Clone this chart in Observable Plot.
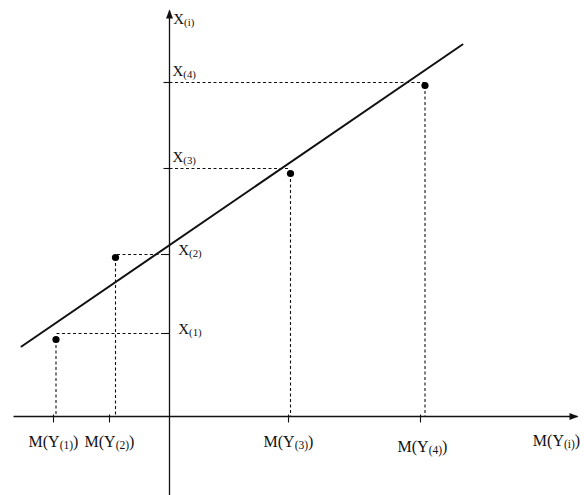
<!DOCTYPE html>
<html>
<head>
<meta charset="utf-8">
<script src="https://cdn.jsdelivr.net/npm/d3@7"></script>
<script src="https://cdn.jsdelivr.net/npm/@observablehq/plot@0.6"></script>
<style>
  html, body { margin: 0; padding: 0; background: #fff; }
  #chart svg { display: block; }
</style>
</head>
<body>
<div id="chart"></div>
<script>
// ---- data (abstract units: M(Y) along horizontal axis, X along vertical axis) ----
const subs   = ["(1)", "(2)", "(3)", "(4)"];           // order-statistic subscripts
const mY     = [-11.35, -5.4, 12.1, 25.55];             // M(Y(k)) position of each point
const obsX   = [7.7, 15.9, 24.3, 33.1];                 // observed X(k) (points)
const fitX   = [8.3, 16.2, 24.8, 33.4];                 // X(k) marked on vertical axis
const tickM  = [-11.6, -6.0, 11.9, 25.1];               // ticks on horizontal axis
const lineMs = [-14.8, 29.3];                           // fitted line ends (horizontal)
const lineXs = [7.0, 37.2];                             // fitted line ends (vertical)
const axisLabelX = "M(Y_{(i)})";
const axisLabelY = "X_{(i)}";

// axis extents
const xDomain = [-16.9, 41.5], yDomain = [-7.9, 41.6];
const hAxis = [-15.6, 40.8], vAxis = [-7.9, 40.6];

const rows = subs.map((s, i) => ({sub: s, m: mY[i], obs: obsX[i], fit: fitX[i], tick: tickM[i]}));
const fitLine = lineMs.map((m, i) => ({m, x: lineXs[i]}));
const axes = [
  {x1: hAxis[0], y1: 0, x2: hAxis[1], y2: 0},
  {x1: 0, y1: vAxis[0], x2: 0, y2: vAxis[1]}
];

// custom symbols
const arrowRight = {draw(c) { c.moveTo(1, 0); c.lineTo(-8, -3.5); c.lineTo(-8, 3.5); c.closePath(); }};
const arrowUp    = {draw(c) { c.moveTo(0, -1); c.lineTo(-3.5, 8); c.lineTo(3.5, 8); c.closePath(); }};
const tickDown   = {draw(c) { c.moveTo(0, -2); c.lineTo(0, 6); }};
const tickLeft   = {draw(c) { c.moveTo(-6, 0); c.lineTo(0, 0); }};

const font = "'Liberation Serif', 'Times New Roman', serif";

const chart = Plot.plot({
  width: 584,
  height: 495,
  margin: 0,
  style: {background: "#fff", fontFamily: font, color: "#111", overflow: "visible"},
  x: {domain: xDomain, axis: null},
  y: {domain: yDomain, axis: null},
  marks: [
    // axes
    Plot.link(axes, {x1: "x1", y1: "y1", x2: "x2", y2: "y2", stroke: "#111", strokeWidth: 1.3}),
    Plot.dot([{x: hAxis[1], y: 0}], {x: "x", y: "y", symbol: arrowRight, fill: "#111", stroke: "none"}),
    Plot.dot([{x: 0, y: vAxis[1]}], {x: "x", y: "y", symbol: arrowUp, fill: "#111", stroke: "none"}),
    // ticks
    Plot.dot(rows, {x: "tick", y: () => 0, symbol: tickDown, fill: "none", stroke: "#111", strokeWidth: 1.1}),
    Plot.dot(rows, {x: () => 0, y: "fit", symbol: tickLeft, fill: "none", stroke: "#111", strokeWidth: 1.1}),
    // dashed projections
    Plot.link(rows, {x1: "m", y1: "obs", x2: "m", y2: () => 0, stroke: "#111", strokeWidth: 1.1, strokeDasharray: "3,2.5"}),
    Plot.link(rows, {x1: () => 0, y1: "fit", x2: "m", y2: "fit", stroke: "#111", strokeWidth: 1.1, strokeDasharray: "3,2.5"}),
    // fitted line
    Plot.line(fitLine, {x: "m", y: "x", stroke: "#111", strokeWidth: 2}),
    // points
    Plot.dot(rows, {x: "m", y: "obs", r: 3.6, fill: "#000", stroke: "none"}),
    // vertical-axis labels
    Plot.text(rows.slice(0, 2), {x: () => 0, y: "fit", text: d => `X_{${d.sub}}`, textAnchor: "start", dx: 8.7, dy: -4, fontSize: 15, fill: "#111"}),
    Plot.text(rows.slice(2), {x: () => 0, y: "fit", text: d => `X_{${d.sub}}`, textAnchor: "start", dx: 3, dy: -11, fontSize: 15, fill: "#111"}),
    Plot.text([axisLabelY], {x: () => 0, y: () => vAxis[1], text: d => d, textAnchor: "start", dx: 3.7, dy: 9, fontSize: 15, fill: "#111"}),
    // horizontal-axis labels
    Plot.text(rows.slice(0, 3), {x: "tick", y: () => 0, text: d => `M(Y_{${d.sub}})`, textAnchor: "middle", dx: 0, dy: 25, fontSize: 16, fill: "#111"}),
    Plot.text(rows.slice(3), {x: "tick", y: () => 0, text: d => `M(Y_{${d.sub}})`, textAnchor: "middle", dx: 2, dy: 30, fontSize: 16, fill: "#111"}),
    Plot.text([axisLabelX], {x: () => hAxis[1], y: () => 0, text: d => d, textAnchor: "middle", dx: -21, dy: 24, fontSize: 16, fill: "#111"})
  ]
});

// turn "_{...}" markup into real subscripts
chart.querySelectorAll("text").forEach(t => {
  const s = t.textContent;
  if (!s.includes("_{")) return;
  const parts = s.split(/_\{([^}]*)\}/);
  while (t.firstChild) t.removeChild(t.firstChild);
  const ns = "http://www.w3.org/2000/svg";
  let shifted = false;
  parts.forEach((p, i) => {
    if (p === "") return;
    const ts = document.createElementNS(ns, "tspan");
    ts.textContent = p;
    if (i % 2 === 1) {
      ts.setAttribute("font-size", "0.72em");
      ts.setAttribute("dy", "2");
      shifted = true;
    } else if (shifted) {
      ts.setAttribute("dy", "-2");
      shifted = false;
    }
    t.appendChild(ts);
  });
});

document.getElementById("chart").appendChild(chart);
</script>
</body>
</html>
